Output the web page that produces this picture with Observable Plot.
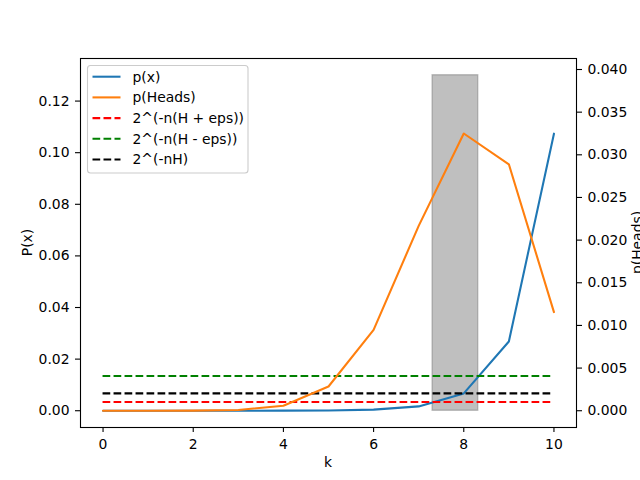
<!DOCTYPE html>
<html>
<head>
<meta charset="utf-8">
<script src="https://cdn.jsdelivr.net/npm/d3@7"></script>
<script src="https://cdn.jsdelivr.net/npm/@observablehq/plot@0.6"></script>
<style>
  html, body { margin: 0; padding: 0; background: white; }
  #chart { width: 640px; height: 480px; }
</style>
</head>
<body>
<div id="chart"></div>
<script>
// ---- data ----
const ks = [0, 1, 2, 3, 4, 5, 6, 7, 8, 9, 10];
const pX = [0.0000001, 0.0000004, 0.0000016, 0.0000066, 0.0000262, 0.000105, 0.000419, 0.00168, 0.00671, 0.02684, 0.10737];
const pHeads = [0.0000000, 0.0000001, 0.0000079, 0.0000846, 0.000593, 0.00284, 0.00948, 0.02167, 0.03250, 0.02889, 0.01156];
const levelNames = ["2^(-n(H + eps))", "2^(-n(H - eps))", "2^(-nH)"];
const levelValues = [0.00336, 0.01344, 0.00672];
const spanX = [7.31, 8.32];
const spanTop = 0.13;
const xTicks = [0, 2, 4, 6, 8, 10];
const leftTicks = [0, 0.02, 0.04, 0.06, 0.08, 0.10, 0.12];
const rightTicks = [0, 0.005, 0.010, 0.015, 0.020, 0.025, 0.030, 0.035, 0.040];
const legendNames = ["p(x)", "p(Heads)", ...levelNames];

// ---- scales ----
const leftDomain = [-0.0065, 0.1365];
const rightDomain = [-0.001966, 0.04129];
const r2l = d3.scaleLinear().domain(rightDomain).range(leftDomain);

const table = ks.map((k, i) => ({k, px: pX[i], ph: r2l(pHeads[i])}));

const blue = "#1f77b4", orange = "#ff7f0e";
const levelColors = ["red", "green", "black"];
const dash = "7.7,3.3";
const font = "'DejaVu Sans', sans-serif";
const fs = "13.9px";

const plot = Plot.plot({
  width: 640,
  height: 480,
  marginTop: 58,
  marginRight: 64,
  marginBottom: 53,
  marginLeft: 80,
  style: {fontFamily: font, fontSize: fs, color: "black", background: "white"},
  x: {domain: [-0.5, 10.5]},
  y: {domain: leftDomain},
  marks: [
    Plot.rect([0], {x1: spanX[0], x2: spanX[1], y1: 0, y2: spanTop,
      fill: "#808080", fillOpacity: 0.5, stroke: "#808080", strokeOpacity: 0.5, strokeWidth: 1.4}),
    Plot.line(table, {x: "k", y: "px", stroke: blue, strokeWidth: 2.08}),
    ...levelValues.map((v, i) => Plot.ruleY([v], {x1: 0, x2: 10, stroke: levelColors[i], strokeWidth: 2.08, strokeDasharray: dash})),
    Plot.line(table, {x: "k", y: "ph", stroke: orange, strokeWidth: 2.08}),
    Plot.axisX({ticks: xTicks, tickSize: 5, tickPadding: 7, tickFormat: d3.format("d"), label: null}),
    Plot.axisY({ticks: leftTicks, tickSize: 5, tickPadding: 6, tickFormat: d3.format(".2f"), label: null}),
    Plot.axisY(rightTicks.map(r2l), {anchor: "right", tickSize: 5, tickPadding: 6,
      tickFormat: d => d3.format(".3f")(Math.round(r2l.invert(d) * 1000) / 1000 + 0), label: null}),
    Plot.frame({stroke: "black", strokeWidth: 1.1})
  ]
});

const svg = d3.select(plot);
svg.selectAll("g[aria-label$='tick'] path, g[aria-label$='tick'] line").attr("stroke-width", 1.1);

// axis labels
svg.append("text").text("k").attr("x", 328).attr("y", 462).attr("dy", "0.35em")
  .attr("text-anchor", "middle").style("font-family", font).style("font-size", fs);
svg.append("text").text("P(x)").attr("transform", "translate(27.5,242.5) rotate(-90)").attr("dy", "0.35em")
  .attr("text-anchor", "middle").style("font-family", font).style("font-size", fs);
svg.append("text").text("p(Heads)").attr("transform", "translate(637,242.5) rotate(-90)").attr("dy", "0.35em")
  .attr("text-anchor", "middle").style("font-family", font).style("font-size", fs);

// legend
const lg = svg.append("g");
lg.append("rect").attr("x", 87.5).attr("y", 65.5).attr("width", 160.5).attr("height", 107.5)
  .attr("rx", 3).attr("fill", "white").attr("fill-opacity", 0.8).attr("stroke", "#cccccc").attr("stroke-width", 1.1);
const legendColors = [blue, orange, ...levelColors];
legendNames.forEach((name, i) => {
  const y = 76.7 + i * 20.7;
  lg.append("line").attr("x1", 92.5).attr("x2", 120.5).attr("y1", y).attr("y2", y)
    .attr("stroke", legendColors[i]).attr("stroke-width", 2.08)
    .attr("stroke-dasharray", i >= 2 ? dash : null);
  lg.append("text").text(name).attr("x", 132.5).attr("y", y).attr("dy", "0.35em")
    .attr("text-anchor", "start").style("font-family", font).style("font-size", fs);
});

document.getElementById("chart").appendChild(plot);
</script>
</body>
</html>
